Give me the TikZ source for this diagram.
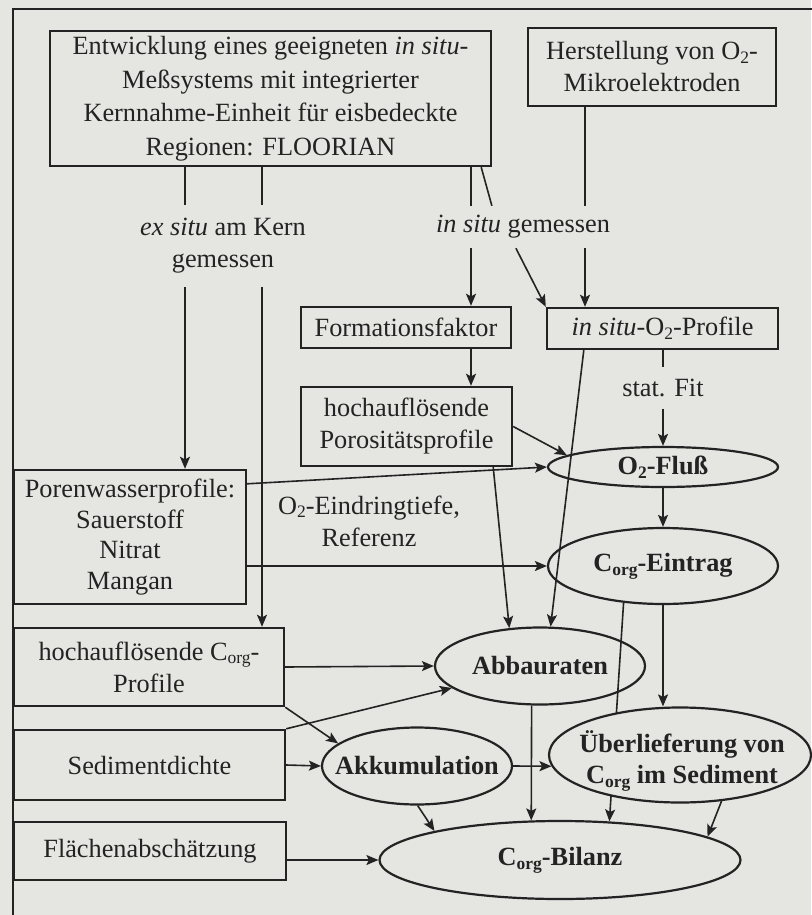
\documentclass[tikz,border=0pt]{standalone}
\usepackage{fontspec}
\setmainfont{Liberation Serif}
\usetikzlibrary{shapes.geometric,arrows.meta,calc}
\definecolor{bgc}{RGB}{229,229,226}
\definecolor{ink}{RGB}{35,35,35}
\newcommand{\lsub}[1]{\raisebox{-0.3ex}{\fontsize{17.5}{17.5}\selectfont #1}}
\begin{document}
\begin{tikzpicture}[x=1pt,y=-1pt,
  font=\fontsize{26.3}{32}\selectfont,
  box/.style={draw=ink, line width=2.4pt, rectangle, inner sep=0pt, align=center, text=ink},
  ell/.style={draw=ink, line width=2.2pt, ellipse, inner sep=0pt},
  etext/.style={font=\fontsize{26.3}{31}\selectfont\bfseries, align=center, text=ink, inner sep=0pt},
  lbl/.style={align=center, text=ink, inner sep=0pt},
  conn/.style={draw=ink, line width=1.6pt},
  arr/.style={conn, -{Stealth[length=12pt,width=10pt,inset=2.5pt]}}
]
\useasboundingbox (0,0) rectangle (811,915);
\fill[bgc] (0,0) rectangle (811,915);
\draw[ink, line width=2.4pt] (815,9) -- (13,9) -- (13,920);

% boxes
\node[box, minimum width=441, minimum height=135, font=\fontsize{26.3}{33.5}\selectfont] (dev) at (270.5,98.5) {Entwicklung eines geeigneten \textit{in situ}-\\Meßsystems mit integrierter\\Kernnahme-Einheit für eisbedeckte\\Regionen: FLOORIAN};
\node[box, minimum width=248, minimum height=78] (her) at (652,67) {Herstellung von O\lsub{2}-\\Mikroelektroden};
\node[lbl, minimum height=82] (exs) at (223,246) {\textit{ex situ} am Kern\\gemessen};
\node[lbl, minimum height=42] (ins) at (523,227) {\textit{in situ} gemessen};
\node[box, minimum width=210, minimum height=41] (form) at (406,327.5) {Formationsfaktor};
\node[box, minimum width=231, minimum height=41] (o2p) at (662.5,328.5) {\textit{in situ}-O\lsub{2}-Profile};
\node[lbl, minimum height=41] (fit) at (663,388) {stat. Fit};
\node[box, minimum width=211, minimum height=79] (poro) at (406.5,426.5) {hochauflösende\\Porositätsprofile};
\node[box, minimum width=232, minimum height=134, font=\fontsize{26.3}{30.5}\selectfont] (poren) at (130,537) {Porenwasserprofile:\\Sauerstoff\\Nitrat\\Mangan};
\node[lbl] (pen) at (369,521) {O\lsub{2}-Eindringtiefe,\\Referenz};
\node[box, minimum width=270, minimum height=78] (corg) at (149,667) {hochauflösende C\lsub{org}-\\Profile};
\node[box, minimum width=271, minimum height=70] (sedi) at (149.5,765) {Sedimentdichte};
\node[box, minimum width=272, minimum height=58] (flae) at (150,851) {Flächenabschätzung};

% ellipses
\node[ell, minimum width=230, minimum height=40] (flu) at (663,467) {};
\node[etext] (flut) at (flu) {O\lsub{2}-Fluß};
\node[ell, minimum width=230, minimum height=76] (ein) at (663,566) {};
\node[etext] (eint) at (ein) {C\lsub{org}-Eintrag};
\node[ell, minimum width=210, minimum height=77] (abb) at (540,666) {};
\node[etext] (abbt) at (abb) {Abbauraten};
\node[ell, minimum width=190, minimum height=77] (akk) at (417,766) {};
\node[etext] (akkt) at (akk) {Akkumulation};
\node[ell, minimum width=361, minimum height=78] (bil) at (560,860) {};
\node[etext] (bilt) at (bil) {C\lsub{org}-Bilanz};
% this connector passes behind the filled Ueberlieferung ellipse
\draw[arr] (ein.-137) -- (bil.38);
\node[ell, fill=bgc, minimum width=262, minimum height=95] (ub) at (680,755) {};
\node[etext] (ubt) at (682,761) {Überlieferung von\\C\lsub{org} im Sediment};

% helper coordinates
\coordinate (xa) at (185,0);
\coordinate (xb) at (262,0);
\coordinate (xr) at (471,0);
\coordinate (xh) at (585,0);

% connectors
\draw[conn] (dev.south -| xa) -- (exs.north -| xa);
\draw[arr] (exs.south -| xa) -- (poren.north -| xa);
\draw[conn] (dev.south -| xb) -- (exs.north -| xb);
\draw[arr] (exs.south -| xb) -- (corg.north -| xb);
\draw[conn] (dev.south -| xr) -- (ins.north -| xr);
\draw[conn] ($(dev.south east)+(-11,0)$) -- ($(ins.north west)+(56,0)$);
\draw[arr] (ins.south -| xr) -- (form.north -| xr);
\draw[arr] ($(ins.south west)+(80,0)$) -- (o2p.north west);
\draw[conn] (her.south -| xh) -- (ins.north -| xh);
\draw[arr] (ins.south -| xh) -- (o2p.north -| xh);
\draw[arr] (form.south -| xr) -- (poro.north -| xr);
\draw[conn] (o2p.south -| fit) -- (fit.north);
\draw[arr] (fit.south) -- (flu.north);
\draw[arr] (poro.east) -- (flu.173);
\draw[arr] ($(poren.north east)+(0,15)$) -- (flu.west);
\draw[arr] (ein.west -| poren.east) -- (ein.west);
\draw[arr] (flu.south) -- (ein.north);
\draw[arr] ($(o2p.south west)+(38,0)$) -- (abb.75);
\draw[arr] ($(poro.south east)+(-20,0)$) -- (abb.129);
\draw[arr] (corg.east) -- (abb.west);
\draw[arr] (corg.south east) -- (akk.164);
\draw[arr] (sedi.north east) -- (abb.194);
\draw[arr] (sedi.east) -- (akk.west);
\draw[arr] (bil.west -| flae.east) -- (bil.west);
\draw[arr] (akk.east) -- (ub.-175);
\draw[arr] (akk.-89) -- (bil.167);
\draw[arr] (abb.-102) -- (bil.126);
\draw[arr] (ein.south) -- (ein.south |- ub.north);
\draw[arr] (ub.-48) -- (bil.9);
\end{tikzpicture}
\end{document}
